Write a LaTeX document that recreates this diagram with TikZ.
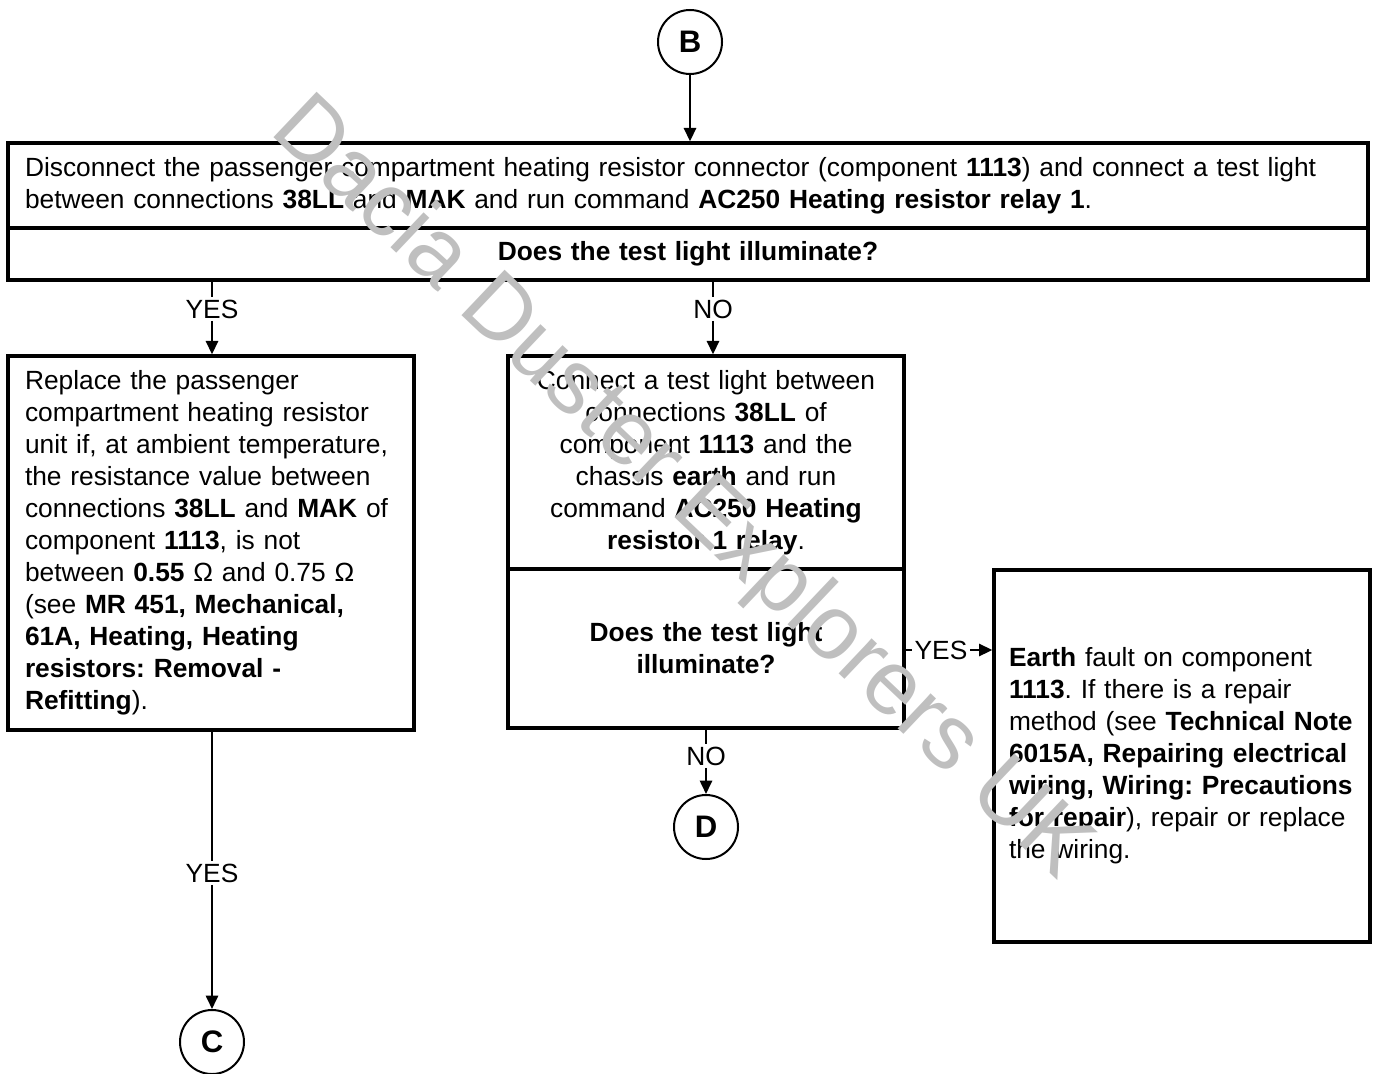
\documentclass[tikz,border=0pt]{standalone}
\usepackage{fontspec}
\setmainfont{Liberation Sans}
\usepackage{tikz}
\usetikzlibrary{arrows.meta,positioning}
\newlength{\pxu}
\setlength{\pxu}{0.45pt}

\begin{document}
\begin{tikzpicture}[x=0.45pt, y=-0.45pt, font=\fontsize{11.85}{14.4}\selectfont\frenchspacing,
    box/.style={draw, line width=1.5pt, inner xsep=17\pxu, inner ysep=0pt, align=left},
    qbox/.style={box, align=center, font=\fontsize{11.85}{14.4}\selectfont\bfseries\frenchspacing},
    conn/.style={circle, draw, line width=0.9pt, minimum size=64\pxu, inner sep=0pt, font=\fontsize{14}{16}\selectfont\bfseries},
    lbl/.style={inner sep=1pt},
    arr/.style={line width=0.9pt, -{Triangle[length=6pt,width=5.5pt]}},
    ln/.style={line width=0.9pt},
    wmark/.style={text=black!25, rotate=-43.5, inner sep=0pt, font=\fontsize{41}{45}\selectfont}]
    \useasboundingbox (0,0) rectangle (1375,1073);

    % Passo inicial
    \node[conn] (B) at (690,42) {B};
    \node[box, text width=1326\pxu, minimum height=85\pxu] (step1) at (688,185.5)
      {Disconnect the passenger compartment heating resistor connector (component \textbf{1113}) and connect a test light\\
       between connections \textbf{38LL} and \textbf{MAK} and run command \textbf{AC250 Heating resistor relay 1}.};
    \node[qbox, text width=1326\pxu, minimum height=52\pxu] (q1) at (688,254) {Does the test light illuminate?};

    % Ramo YES
    \node[lbl] (yes1) at (212,309) {YES};
    \node[box, text width=372\pxu, minimum height=374\pxu] (repl) at (211,543)
      {Replace the passenger\\
       compartment heating resistor\\
       unit if, at ambient temperature,\\
       the resistance value between\\
       connections \textbf{38LL} and \textbf{MAK} of\\
       component \textbf{1113}, is not\\
       between \textbf{0.55} Ω and 0.75 Ω\\
       (see \textbf{MR 451, Mechanical,}\\
       \textbf{61A, Heating, Heating}\\
       \textbf{resistors: Removal -}\\
       \textbf{Refitting}).};
    \node[lbl] (yes3) at (212,873) {YES};
    \node[conn] (C) at (212,1042) {C};

    % Ramo NO
    \node[lbl] (no1) at (713,309) {NO};
    \node[box, align=center, text width=362\pxu, minimum height=213\pxu] (step2) at (706,462.5)
      {Connect a test light between\\
       connections \textbf{38LL} of\\
       component \textbf{1113} and the\\
       chassis \textbf{earth} and run\\
       command \textbf{AC250 Heating}\\
       \textbf{resistor 1 relay}.};
    \node[qbox, text width=362\pxu, minimum height=159\pxu] (q2) at (706,648.5) {Does the test light\\illuminate?};
    \node[lbl] (yes2) at (941,650) {YES};
    \node[box, inner xsep=15\pxu, text width=346\pxu, minimum height=372\pxu] (earth) at (1182,756)
      {\textbf{Earth} fault on component\\
       \textbf{1113}. If there is a repair\\
       method (see \textbf{Technical Note}\\
       \textbf{6015A, Repairing electrical}\\
       \textbf{wiring, Wiring: Precautions}\\
       \textbf{for repair}), repair or replace\\
       the wiring.};
    \node[lbl] (no2) at (706,756) {NO};
    \node[conn] (D) at (706,827) {D};

    \draw[arr] (B) -- (step1.north -| B);
    \draw[ln] (q1.south -| yes1) -- (yes1);
    \draw[arr] (yes1) -- (repl.north -| yes1);
    \draw[ln] (repl.south -| yes3) -- (yes3);
    \draw[arr] (yes3) -- (C);
    \draw[ln] (q1.south -| no1) -- (no1);
    \draw[arr] (no1) -- (step2.north -| no1);
    \draw[ln] (q2.east |- yes2) -- (yes2);
    \draw[arr] (yes2) -- (earth.west |- yes2);
    \draw[ln] (q2.south -| no2) -- (no2);
    \draw[arr] (no2) -- (D);

    % Marca d'agua
    \node[wmark] (wm) at (680,490) {Dacia Duster Explorers UK};
\end{tikzpicture}
\end{document}
